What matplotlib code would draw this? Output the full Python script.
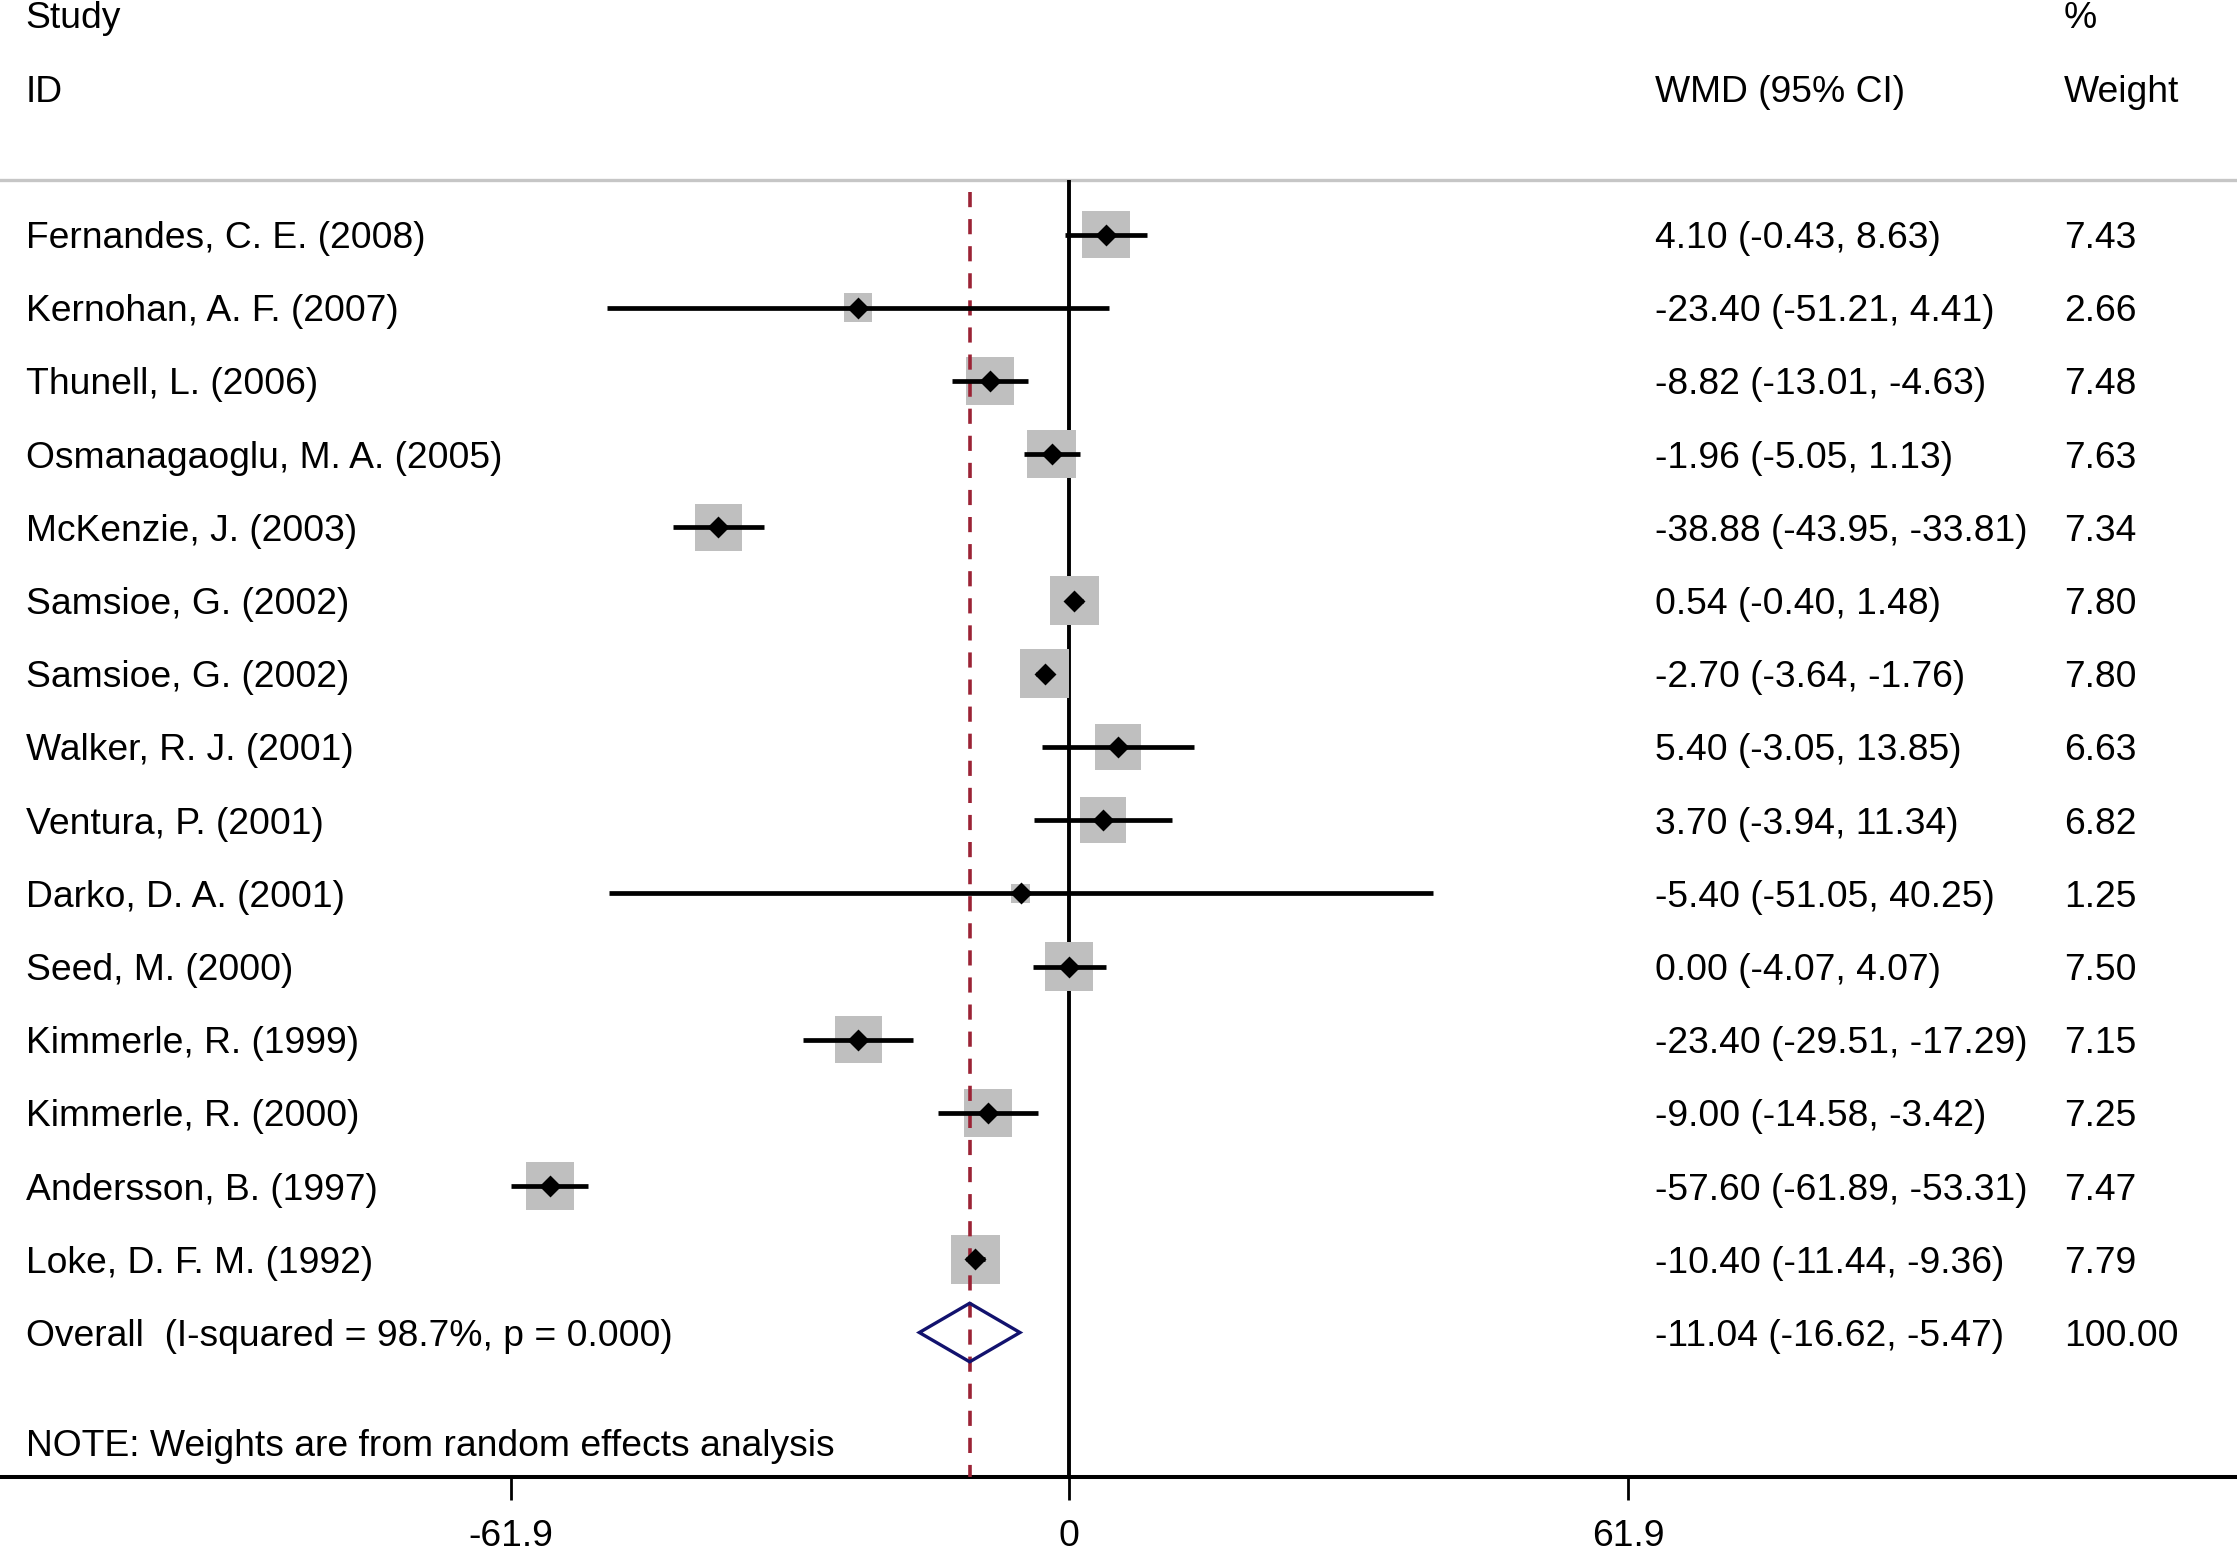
import matplotlib
matplotlib.use("Agg")
import matplotlib.pyplot as plt
import numpy as np
from matplotlib.patches import Polygon

plt.rcParams['font.family'] = ['Liberation Sans', 'DejaVu Sans']

studies = ["Fernandes, C. E. (2008)", "Kernohan, A. F. (2007)", "Thunell, L. (2006)",
           "Osmanagaoglu, M. A. (2005)", "McKenzie, J. (2003)", "Samsioe, G. (2002)",
           "Samsioe, G. (2002)", "Walker, R. J. (2001)", "Ventura, P. (2001)",
           "Darko, D. A. (2001)", "Seed, M. (2000)", "Kimmerle, R. (1999)",
           "Kimmerle, R. (2000)", "Andersson, B. (1997)", "Loke, D. F. M. (1992)"]
wmd = [4.10, -23.40, -8.82, -1.96, -38.88, 0.54, -2.70, 5.40, 3.70, -5.40, 0.00,
       -23.40, -9.00, -57.60, -10.40]
ci_low = [-0.43, -51.21, -13.01, -5.05, -43.95, -0.40, -3.64, -3.05, -3.94, -51.05,
          -4.07, -29.51, -14.58, -61.89, -11.44]
ci_high = [8.63, 4.41, -4.63, 1.13, -33.81, 1.48, -1.76, 13.85, 11.34, 40.25, 4.07,
           -17.29, -3.42, -53.31, -9.36]
weights = [7.43, 2.66, 7.48, 7.63, 7.34, 7.80, 7.80, 6.63, 6.82, 1.25, 7.50, 7.15,
           7.25, 7.47, 7.79]
overall = -11.04
overall_low = -16.62
overall_high = -5.47
overall_label = "Overall  (I-squared = 98.7%, p = 0.000)"
overall_weight = "100.00"
note = "NOTE: Weights are from random effects analysis"
xticks = [-61.9, 0, 61.9]
xticklabels = ["-61.9", "0", "61.9"]

fig = plt.figure(figsize=(2237 / 200, 1552 / 200), dpi=200)
ax = fig.add_axes([0, 0.0485, 1, 0.9515])
ax.set_xlim(-118.5, 129.4)
ax.set_ylim(16.97, -3.204)

fs = 13.4

for s in ['top', 'left', 'right']:
    ax.spines[s].set_visible(False)
ax.spines['bottom'].set_linewidth(1.45)
ax.set_yticks([])
ax.set_xticks(xticks)
ax.set_xticklabels(xticklabels)
ax.tick_params(axis='x', length=8.3, width=1.0, pad=7, labelsize=fs, color='black')

n = len(studies)
rows = np.arange(n)

# header line and reference lines
ax.axhline(-0.745, color='#c6c6c6', lw=1.2, zorder=1)
ax.vlines(0, -0.745, 16.97, color='black', lw=1.4, zorder=1)

# boxes
sides = 17.3 * np.sqrt(np.array(weights) / 7.5)
ax.scatter(wmd, rows, s=sides ** 2, marker='s', color='#bfbfbf', linewidths=0, zorder=2)

# overall dashed line
ax.vlines(overall, -0.58, 16.97, color='#9b2335', lw=1.3,
          linestyles=[(0, (4.2, 3.3))], zorder=3)

# CI lines and points
for i in range(n):
    ax.plot([ci_low[i], ci_high[i]], [i, i], color='black', lw=1.7,
            solid_capstyle='butt', zorder=4)
ax.plot(wmd, rows, linestyle='none', marker='D', ms=4.6, color='black', zorder=5)

# overall diamond
yo = n
dia = Polygon([[overall_low, yo], [overall, yo - 0.40], [overall_high, yo],
               [overall, yo + 0.40]], closed=True, fill=False,
              edgecolor='#12126e', lw=1.2, zorder=4)
ax.add_patch(dia)

# text columns
x_study, x_wmd, x_w = -115.65, 64.9, 110.2
va = 'center_baseline'
ax.text(x_study, -3, "Study", fontsize=fs, va=va, ha='left')
ax.text(x_study, -2, "ID", fontsize=fs, va=va, ha='left')
ax.text(x_wmd, -2, "WMD (95% CI)", fontsize=fs, va=va, ha='left')
ax.text(x_w, -3, "%", fontsize=fs, va=va, ha='left')
ax.text(x_w, -2, "Weight", fontsize=fs, va=va, ha='left')

for i in range(n):
    ax.text(x_study, i, studies[i], fontsize=fs, va=va, ha='left')
    ax.text(x_wmd, i, f"{wmd[i]:.2f} ({ci_low[i]:.2f}, {ci_high[i]:.2f})",
            fontsize=fs, va=va, ha='left')
    ax.text(x_w, i, f"{weights[i]:.2f}", fontsize=fs, va=va, ha='left')

ax.text(x_study, yo, overall_label, fontsize=fs, va=va, ha='left')
ax.text(x_wmd, yo, f"{overall:.2f} ({overall_low:.2f}, {overall_high:.2f})",
        fontsize=fs, va=va, ha='left')
ax.text(x_w, yo, overall_weight, fontsize=fs, va=va, ha='left')
ax.text(x_study, 16.5, note, fontsize=fs, va=va, ha='left')

fig.savefig("out.png", dpi=200)
